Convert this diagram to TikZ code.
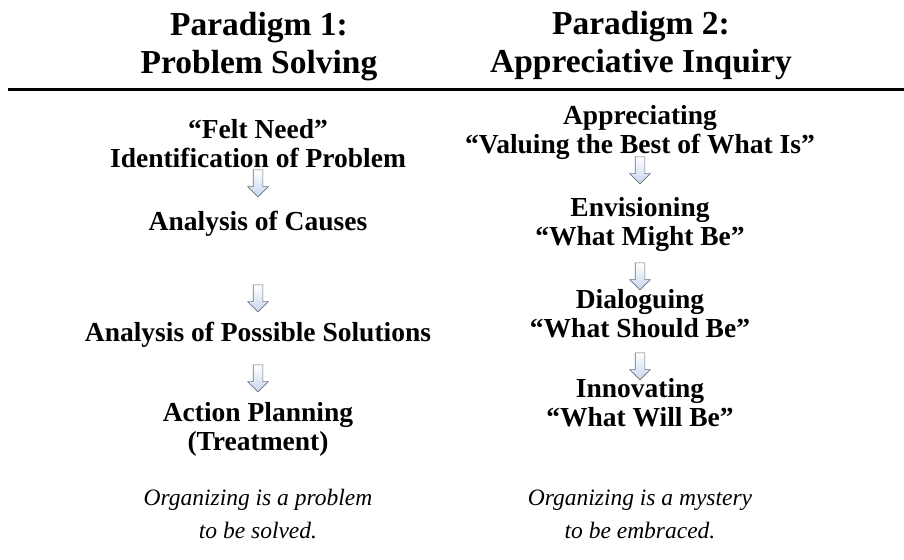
\documentclass[tikz,border=0pt]{standalone}
\usepackage{fontspec}
\setmainfont{Liberation Serif}
\usetikzlibrary{shapes.arrows}
\definecolor{arrowfill}{RGB}{196,214,240}
\definecolor{arrowline}{RGB}{110,110,120}
\begin{document}
\begin{tikzpicture}[x=1pt,y=1pt,
  head/.style={font=\bfseries\fontsize{33.5}{38}\selectfont, align=center, inner sep=0pt},
  stage/.style={font=\bfseries\fontsize{27.5}{29}\selectfont, align=center, inner sep=0pt},
  motto/.style={font=\itshape\fontsize{23.5}{33}\selectfont, align=center, inner sep=0pt},
  downarrow/.style={single arrow, shape border rotate=270, draw=arrowline, line width=0.6pt,
    top color=white, bottom color=arrowfill, minimum height=27pt, inner sep=4.5pt,
    single arrow head extend=5.5pt, single arrow tip angle=90}
]
\useasboundingbox (0,0) rectangle (904,-559);

% column headings and rule
\node[head] (h1) at (259,-47) {Paradigm 1:\\Problem Solving};
\node[head] (h2) at (641,-45) {Paradigm 2:\\Appreciative Inquiry};
\draw[line width=3pt] (8,-90) -- (904,-90);

% problem solving sequence
\node[stage] (p1) at (258,-144) {``Felt Need''\\Identification of Problem};
\node[downarrow] (a1) at (258,-181) {};
\node[stage] (p2) at (258,-224) {Analysis of Causes};
\node[downarrow] (a2) at (258,-296) {};
\node[stage] (p3) at (258,-335) {Analysis of Possible Solutions};
\node[downarrow] (a3) at (258,-376) {};
\node[stage] (p4) at (258,-429) {Action Planning\\(Treatment)};
\node[motto] (m1) at (258,-514) {Organizing is a problem\\to be solved.};

% appreciative inquiry sequence
\node[stage] (q1) at (640,-132) {Appreciating\\``Valuing the Best of What Is''};
\node[downarrow] (b1) at (640,-168) {};
\node[stage] (q2) at (640,-224) {Envisioning\\``What Might Be''};
\node[downarrow] (b2) at (640,-274) {};
\node[stage] (q3) at (640,-314) {Dialoguing\\``What Should Be''};
\node[downarrow] (b3) at (640,-364) {};
\node[stage] (q4) at (640,-403) {Innovating\\``What Will Be''};
\node[motto] (m2) at (640,-514) {Organizing is a mystery\\to be embraced.};
\end{tikzpicture}
\end{document}
